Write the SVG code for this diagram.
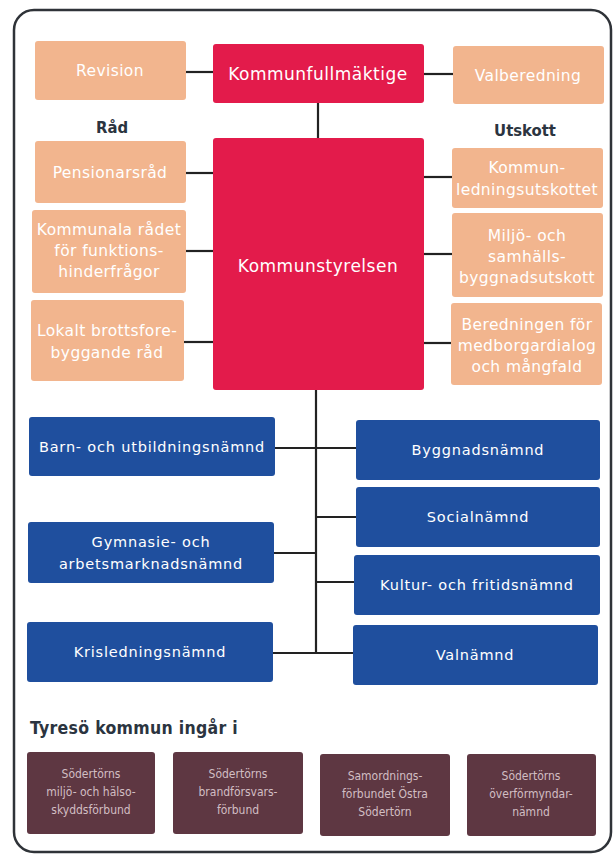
<svg xmlns="http://www.w3.org/2000/svg" width="616" height="858" viewBox="0 0 616 858">
<style>
text{font-family:"DejaVu Sans","Liberation Sans",sans-serif;fill:#fff;text-anchor:middle}
.peach{fill:#f2b58e}
.red{fill:#e31b4b}
.blue{fill:#1f4f9e}
.maroon{fill:#5e3742}
.t14{font-size:15.5px;letter-spacing:0.4px}
.big{font-size:17px;letter-spacing:0.5px}
.t13{font-size:14.5px;letter-spacing:0.8px}
.t11{font-family:"DejaVu Sans Condensed","DejaVu Sans",sans-serif;font-size:12px;fill:#d2bec3}
.h{font-family:"DejaVu Sans Condensed","DejaVu Sans",sans-serif;font-size:16.5px;font-weight:bold;fill:#2b3440}
.con line{stroke:#222;stroke-width:2.2}
</style>
<rect x="14" y="10" width="597" height="842" rx="20" fill="#fff" stroke="#2f3338" stroke-width="2.5"/>
<g class="con">
<line x1="186" y1="72" x2="213" y2="72"/>
<line x1="424" y1="74" x2="453" y2="74"/>
<line x1="318" y1="103" x2="318" y2="138"/>
<line x1="186" y1="173" x2="213" y2="173"/>
<line x1="186" y1="251" x2="213" y2="251"/>
<line x1="184" y1="342" x2="213" y2="342"/>
<line x1="424" y1="177" x2="452" y2="177"/>
<line x1="424" y1="254" x2="452" y2="254"/>
<line x1="424" y1="343" x2="451" y2="343"/>
<line x1="316" y1="390" x2="316" y2="654"/>
<line x1="275" y1="448" x2="356" y2="448"/>
<line x1="316" y1="517" x2="356" y2="517"/>
<line x1="274" y1="553" x2="316" y2="553"/>
<line x1="316" y1="582" x2="354" y2="582"/>
<line x1="273" y1="653" x2="353" y2="653"/>
</g>
<g id="revision"><rect class="peach" x="35" y="41" width="151" height="59" rx="3"/><text class="t14" x="110" y="76">Revision</text></g>
<g id="kf"><rect class="red" x="213" y="44" width="211" height="59" rx="3"/><text class="big" x="318" y="80">Kommunfullmäktige</text></g>
<g id="valberedning"><rect class="peach" x="453" y="46" width="151" height="58" rx="3"/><text class="t14" x="528" y="81">Valberedning</text></g>
<text class="h" x="112" y="133">Råd</text>
<text class="h" x="525" y="136">Utskott</text>
<g id="ks"><rect class="red" x="213" y="138" width="211" height="252" rx="3"/><text class="big" x="318" y="272">Kommunstyrelsen</text></g>
<g id="pension"><rect class="peach" x="35" y="141" width="151" height="62" rx="3"/><text class="t14" x="110" y="178">Pensionarsråd</text></g>
<g id="funk"><rect class="peach" x="32" y="210" width="154" height="83" rx="3"/><text class="t14" x="109" y="235">Kommunala rådet</text><text class="t14" x="109" y="256">för funktions-</text><text class="t14" x="109" y="277">hinderfrågor</text></g>
<g id="brott"><rect class="peach" x="31" y="300" width="153" height="81" rx="3"/><text class="t14" x="107" y="336">Lokalt brottsfore-</text><text class="t14" x="107" y="358">byggande råd</text></g>
<g id="klu"><rect class="peach" x="452" y="148" width="151" height="60" rx="3"/><text class="t14" x="527" y="173">Kommun-</text><text class="t14" x="527" y="195">ledningsutskottet</text></g>
<g id="miljo"><rect class="peach" x="452" y="213" width="151" height="84" rx="3"/><text class="t14" x="527" y="241">Miljö- och</text><text class="t14" x="527" y="262">samhälls-</text><text class="t14" x="527" y="283">byggnadsutskott</text></g>
<g id="bered"><rect class="peach" x="451" y="303" width="151" height="82" rx="3"/><text class="t14" x="527" y="330">Beredningen för</text><text class="t14" x="527" y="351">medborgardialog</text><text class="t14" x="527" y="372">och mångfald</text></g>
<g id="barn"><rect class="blue" x="29" y="417" width="246" height="59" rx="3"/><text class="t13" x="152" y="452">Barn- och utbildningsnämnd</text></g>
<g id="bygg"><rect class="blue" x="356" y="420" width="244" height="60" rx="3"/><text class="t13" x="478" y="455">Byggnadsnämnd</text></g>
<g id="social"><rect class="blue" x="356" y="487" width="244" height="60" rx="3"/><text class="t13" x="478" y="522">Socialnämnd</text></g>
<g id="gymn"><rect class="blue" x="28" y="522" width="246" height="61" rx="3"/><text class="t13" x="151" y="547">Gymnasie- och</text><text class="t13" x="151" y="569">arbetsmarknadsnämnd</text></g>
<g id="kultur"><rect class="blue" x="354" y="555" width="246" height="60" rx="3"/><text class="t13" x="477" y="590">Kultur- och fritidsnämnd</text></g>
<g id="kris"><rect class="blue" x="27" y="622" width="246" height="60" rx="3"/><text class="t13" x="150" y="657">Krisledningsnämnd</text></g>
<g id="val"><rect class="blue" x="353" y="625" width="245" height="60" rx="3"/><text class="t13" x="475" y="660">Valnämnd</text></g>
<text class="h" x="30" y="734" style="text-anchor:start;font-size:17.5px;letter-spacing:0.3px">Tyresö kommun ingår i</text>
<g id="smohf"><rect class="maroon" x="27" y="752" width="128" height="82" rx="3"/><text class="t11" x="91" y="778">Södertörns</text><text class="t11" x="91" y="796">miljö- och hälso-</text><text class="t11" x="91" y="814">skyddsförbund</text></g>
<g id="sbf"><rect class="maroon" x="173" y="752" width="130" height="82" rx="3"/><text class="t11" x="238" y="778">Södertörns</text><text class="t11" x="238" y="796">brandförsvars-</text><text class="t11" x="238" y="814">förbund</text></g>
<g id="samord"><rect class="maroon" x="320" y="754" width="130" height="82" rx="3"/><text class="t11" x="385" y="780">Samordnings-</text><text class="t11" x="385" y="798">förbundet Östra</text><text class="t11" x="385" y="816">Södertörn</text></g>
<g id="overf"><rect class="maroon" x="467" y="754" width="129" height="82" rx="3"/><text class="t11" x="531" y="780">Södertörns</text><text class="t11" x="531" y="798">överförmyndar-</text><text class="t11" x="531" y="816">nämnd</text></g>
</svg>
